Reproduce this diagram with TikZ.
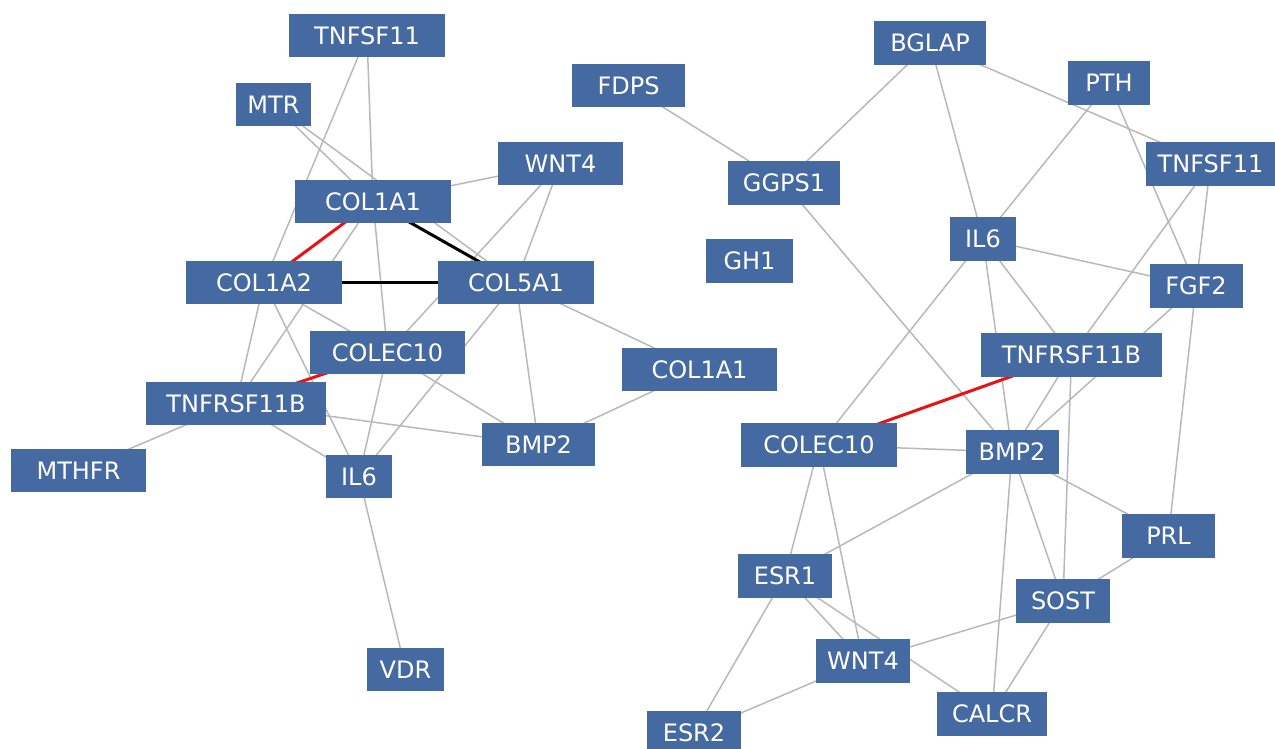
\documentclass[tikz,border=0pt]{standalone}
\usepackage{fontspec}
\setmainfont{DejaVu Sans}
\pgfdeclarelayer{background}
\pgfsetlayers{background,main}
\definecolor{genefill}{RGB}{68,106,161}
\definecolor{linkgray}{RGB}{184,184,184}
\definecolor{linkred}{RGB}{232,18,18}
\tikzset{
  gene/.style={rectangle, fill=genefill, text=white, inner sep=0pt,
    minimum height=43.5pt, font=\fontsize{24}{24}\selectfont},
  link/.style={draw=linkgray, line width=1.5pt},
  redlink/.style={draw=linkred, line width=3pt},
  blacklink/.style={draw=black, line width=3pt},
}
\begin{document}
\begin{tikzpicture}[x=1pt,y=-1pt]
\useasboundingbox (0,0) rectangle (1275,748);
\clip (0,0) rectangle (1275,748);
% left cluster
\node[gene, minimum width=156pt] (tnfsfL) at (367,35.5) {TNFSF11};
\node[gene, minimum width=75pt]  (mtr)    at (273.5,104.5) {MTR};
\node[gene, minimum width=125pt] (wntL)   at (560.5,163.5) {WNT4};
\node[gene, minimum width=156pt] (colaL)  at (373,201.5) {COL1A1};
\node[gene, minimum width=156pt] (cola2)  at (264,282.5) {COL1A2};
\node[gene, minimum width=156pt] (col5)   at (516,282.5) {COL5A1};
\node[gene, minimum width=155pt] (colecL) at (387.5,352.5) {COLEC10};
\node[gene, minimum width=180pt] (tnfrL)  at (236,403.5) {TNFRSF11B};
\node[gene, minimum width=135pt] (mthfr)  at (78.5,470.5) {MTHFR};
\node[gene, minimum width=66pt]  (il6L)   at (359,476.5) {IL6};
\node[gene, minimum width=113pt] (bmpL)   at (538.5,444.5) {BMP2};
\node[gene, minimum width=155pt] (colaB)  at (699.5,369.5) {COL1A1};
\node[gene, minimum width=77pt]  (vdr)    at (405.5,669.5) {VDR};
% middle
\node[gene, minimum width=113pt] (fdps)   at (628.5,85.5) {FDPS};
\node[gene, minimum width=112pt] (ggps)   at (784,183) {GGPS1};
\node[gene, minimum width=87pt]  (gh1)    at (749.5,261) {GH1};
% right cluster
\node[gene, minimum width=112pt] (bglap)  at (930,43) {BGLAP};
\node[gene, minimum width=82pt]  (pth)    at (1109,83) {PTH};
\node[gene, minimum width=129pt] (tnfsfR) at (1210.5,164) {TNFSF11};
\node[gene, minimum width=66pt]  (il6R)   at (983,239) {IL6};
\node[gene, minimum width=93pt]  (fgf2)   at (1196,286) {FGF2};
\node[gene, minimum width=181pt] (tnfrR)  at (1071.5,355) {TNFRSF11B};
\node[gene, minimum width=156pt] (colecR) at (819,445) {COLEC10};
\node[gene, minimum width=93pt]  (bmpR)   at (1012,452) {BMP2};
\node[gene, minimum width=93pt]  (prl)    at (1168.5,536) {PRL};
\node[gene, minimum width=94pt]  (esr1)   at (785,576) {ESR1};
\node[gene, minimum width=94pt]  (sost)   at (1063,601) {SOST};
\node[gene, minimum width=94pt]  (wntR)   at (863,661) {WNT4};
\node[gene, minimum width=110pt] (calcr)  at (992,714) {CALCR};
\node[gene, minimum width=94pt]  (esr2)   at (694,733) {ESR2};
\begin{pgfonlayer}{background}
% left cluster links
\foreach \a/\b in {tnfsfL/colaL, tnfsfL/cola2, mtr/colaL, mtr/col5,
  colaL/wntL, colaL/colecL, colaL/tnfrL, wntL/colecL, wntL/col5,
  col5/il6L, col5/bmpL, col5/colaB, colaB/bmpL, cola2/tnfrL, cola2/il6L,
  cola2/colecL, colecL/bmpL, colecL/il6L, tnfrL/bmpL, tnfrL/il6L,
  tnfrL/mthfr, il6L/vdr}
  \draw[link] (\a.center) -- (\b.center);
\draw[redlink] (colaL.center) -- (cola2.center);
\draw[redlink] (colecL.center) -- (tnfrL.center);
\draw[blacklink] (colaL.center) -- (col5.center);
\draw[blacklink] (cola2.center) -- (col5.center);
% middle and right cluster links
\foreach \a/\b in {fdps/ggps, ggps/bglap, ggps/bmpR,
  bglap/il6R, bglap/tnfsfR, pth/il6R, pth/fgf2, tnfsfR/tnfrR,
  tnfsfR/fgf2, il6R/fgf2, il6R/tnfrR, il6R/bmpR, il6R/colecR,
  fgf2/bmpR, fgf2/prl, tnfrR/bmpR, tnfrR/sost, colecR/bmpR,
  colecR/esr1, colecR/wntR, bmpR/esr1, bmpR/prl, bmpR/calcr,
  bmpR/sost, prl/sost, sost/wntR, sost/calcr, esr1/wntR,
  esr1/calcr, esr1/esr2, wntR/esr2}
  \draw[link] (\a.center) -- (\b.center);
\draw[redlink] (tnfrR.center) -- (colecR.center);
\end{pgfonlayer}
\end{tikzpicture}
\end{document}
